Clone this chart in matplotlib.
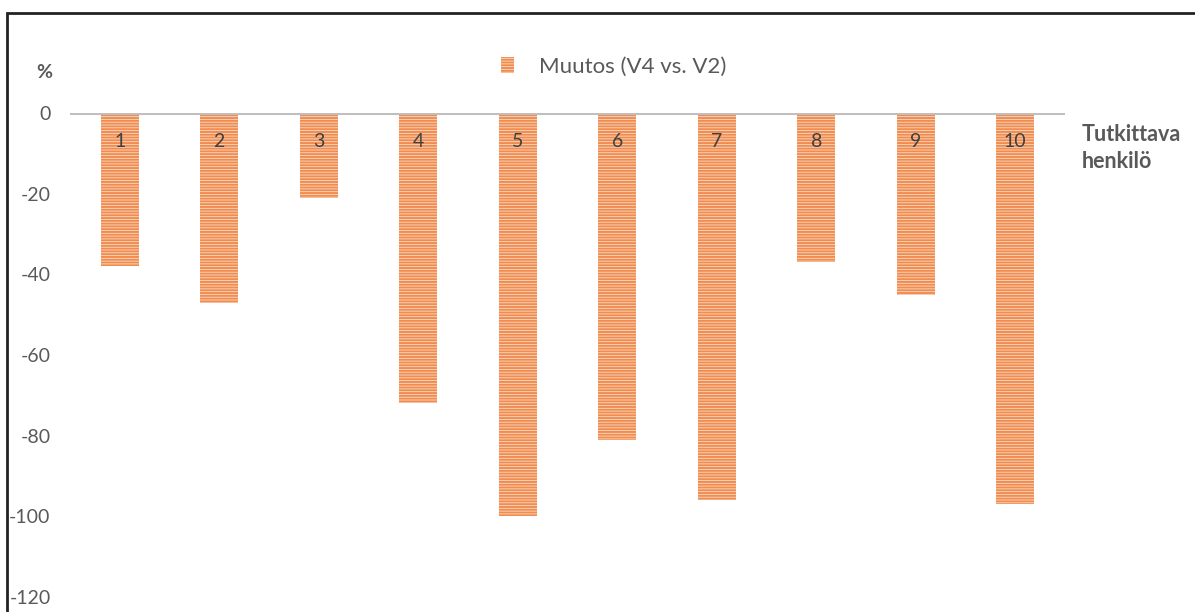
import matplotlib.pyplot as plt
from matplotlib.patches import Rectangle
import numpy as np

plt.rcParams['font.family'] = ['Lato', 'DejaVu Sans']
plt.rcParams['axes.unicode_minus'] = False
plt.rcParams['hatch.linewidth'] = 1.4

# Muutos (V4 vs. V2) per tutkittava henkilö, %
persons = ['1', '2', '3', '4', '5', '6', '7', '8', '9', '10']
change = [-38, -47, -21, -72, -100, -81, -96, -37, -45, -97]
yticks = [0, -20, -40, -60, -80, -100, -120]

grey_txt = '#595959'
bar_face = '#FADBC5'
bar_hatch = '#F08C50'

fig = plt.figure(figsize=(11.95, 6.12), dpi=100)
ax = fig.add_axes([70 / 1195, 1 - 597 / 612, 995 / 1195, 484 / 612])

x = np.arange(len(persons))
ax.bar(x, change, width=0.38, color=bar_face, edgecolor=bar_hatch,
       linewidth=0, hatch='------', label='Muutos (V4 vs. V2)')

# person numbers just under the zero line, inside the bars
for xi, name in zip(x, persons):
    ax.text(xi, -7, name, ha='center', va='center', fontsize=14, color='#404040')

ax.axhline(0, color='#BFBFBF', linewidth=2.2, zorder=3)
ax.set_xlim(-0.5, len(persons) - 0.5)
ax.set_ylim(-120, 0)
ax.set_yticks(yticks)
ax.set_xticks([])
ax.tick_params(axis='y', length=0, pad=14, labelsize=14, labelcolor=grey_txt)
for s in ax.spines.values():
    s.set_visible(False)
ax.patch.set_alpha(0)

fig.text(44 / 1195, 1 - 72 / 612, '%', ha='center', va='center',
         fontsize=14, fontweight='bold', color=grey_txt)
fig.text(1082 / 1195, 1 - 148 / 612, 'Tutkittava\nhenkilö', ha='left', va='center',
         fontsize=15.5, fontweight='bold', color=grey_txt, linespacing=1.35)

leg = ax.legend(loc='center', bbox_to_anchor=(0.5 + 46 / 995, 1 + 46 / 484), frameon=False,
                fontsize=16, handlelength=0.6, handleheight=0.7, handletextpad=1.1)
for t in leg.get_texts():
    t.set_color(grey_txt)

# outer chart frame (top and left edges visible)
fig.patches.append(Rectangle((7 / 1195, -0.1), 1.2, 1 - 13 / 612 + 0.1,
                             transform=fig.transFigure, fill=False,
                             edgecolor='#222222', linewidth=2))

fig.savefig('out.png', dpi=100)
